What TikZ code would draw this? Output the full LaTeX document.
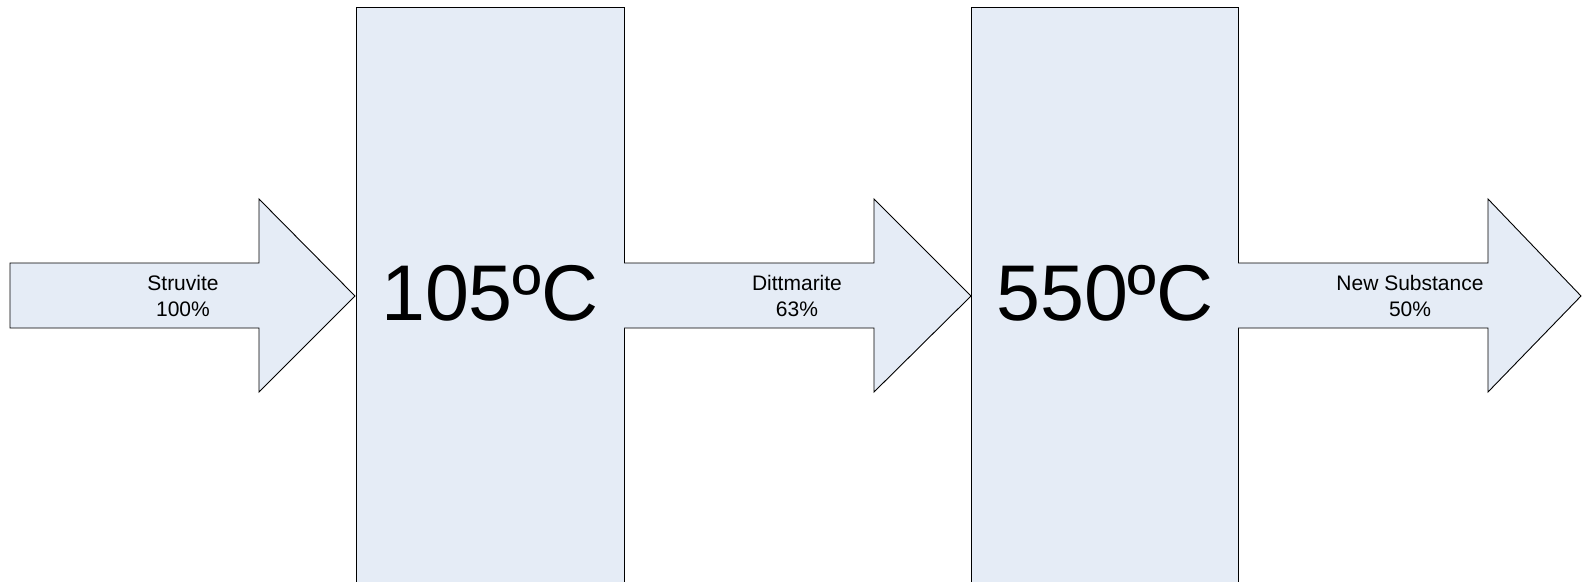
\documentclass[tikz,border=0pt]{standalone}
\usepackage{fontspec}
\setmainfont{Liberation Sans}
\definecolor{stagefill}{RGB}{229,236,246}
\tikzset{
  x=1pt, y=-1pt,
  outline/.style={draw=black, line width=0.9pt, fill=stagefill, line join=miter},
  flowlabel/.style={align=center, font=\fontsize{21}{26}\selectfont, inner sep=0pt},
  templabel/.style={anchor=base, font=\fontsize{79}{79}\selectfont, inner sep=0pt}
}
\begin{document}
\begin{tikzpicture}
\useasboundingbox (0,0) rectangle (1582,581);
\clip (0,0) rectangle (1582,581);

% heating stages (they run past the lower edge)
\draw[outline] (356,7) rectangle (624,600);
\draw[outline] (971,7) rectangle (1238,600);
\node[templabel] (t1) at (490,320) {105ºC};
\node[templabel] (t2) at (1105,320) {550ºC};

% material flow arrows
\draw[outline] (10,263) -- (259,263) -- (259,199) -- (355,296) -- (259,392)
  -- (259,328) -- (10,328) -- cycle;
\draw[outline] (624,263) -- (874,263) -- (874,199) -- (971,296) -- (874,392)
  -- (874,328) -- (624,328);
\draw[outline] (1238,263) -- (1488,263) -- (1488,199) -- (1581,296) -- (1488,392)
  -- (1488,328) -- (1238,328);

\node[flowlabel] (a1) at (183,296) {Struvite\\100\%};
\node[flowlabel] (a2) at (797,296) {Dittmarite\\63\%};
\node[flowlabel] (a3) at (1410,296) {New Substance\\50\%};
\end{tikzpicture}
\end{document}
